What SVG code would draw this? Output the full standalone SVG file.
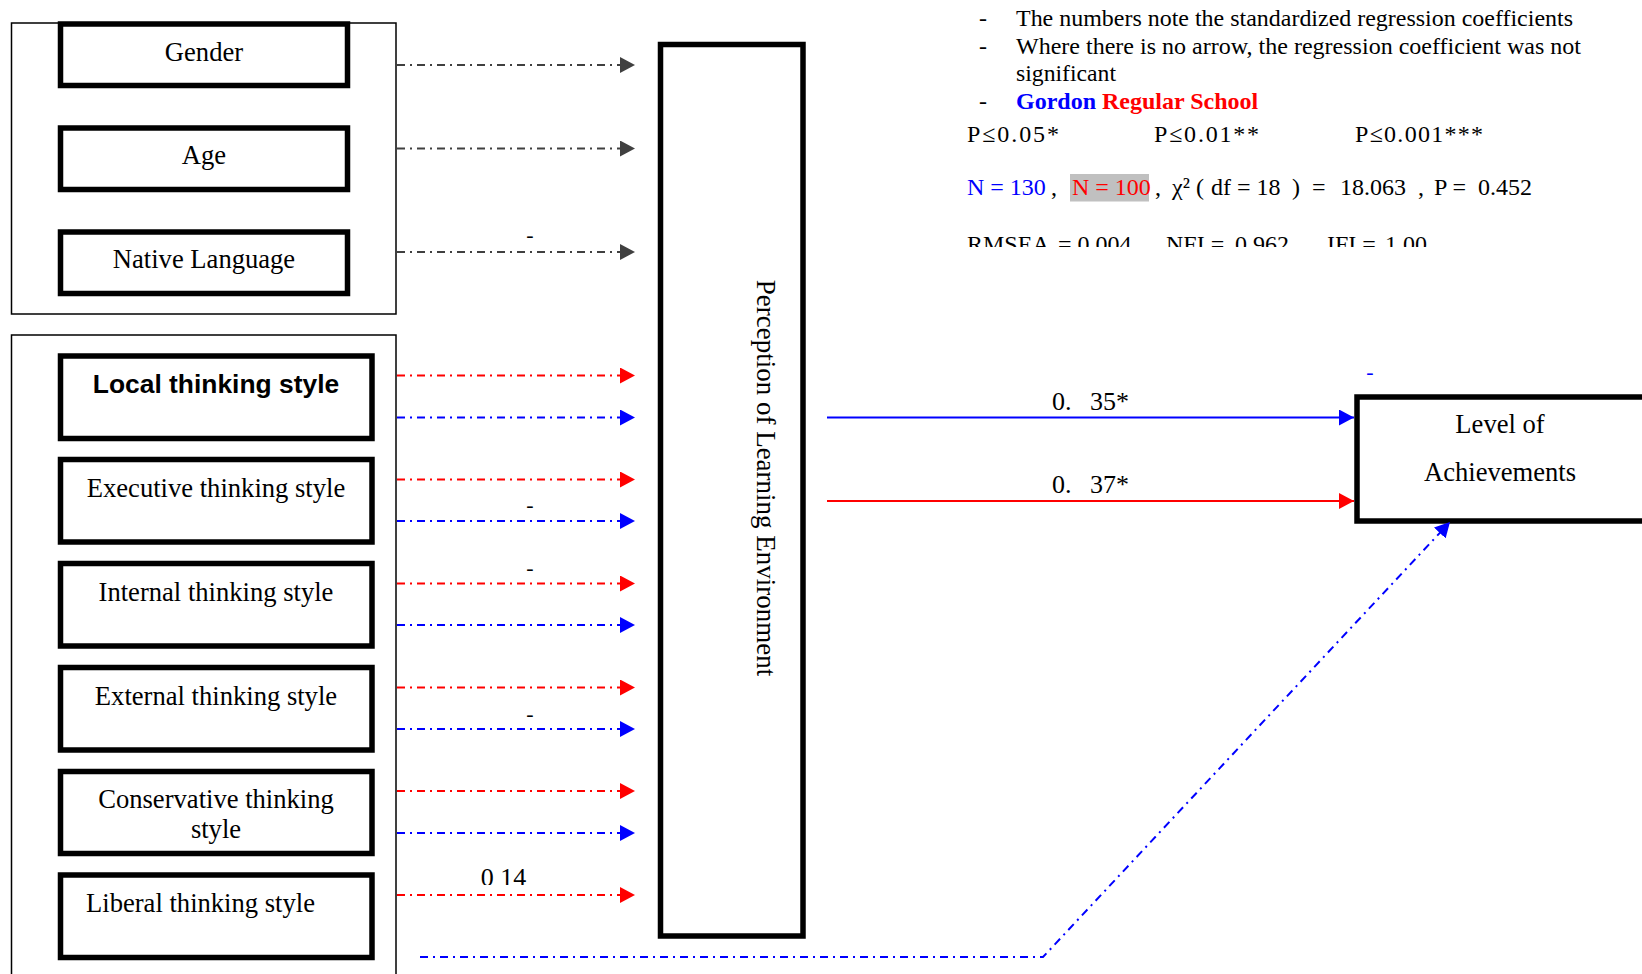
<svg xmlns="http://www.w3.org/2000/svg" width="1642" height="974" viewBox="0 0 1642 974">
<style>
  .serif { font-family: "Liberation Serif", "Times New Roman", serif; fill: #000; }
  .lbl { font-family: "Liberation Serif", "Times New Roman", serif; font-size: 26.6px; fill: #000; text-anchor: middle; }
  .note { font-family: "Liberation Serif", "Times New Roman", serif; font-size: 24px; fill: #000; }
  .coef { font-size: 26px; }
  .dash { font-size: 22px; text-anchor: middle; }
  .thick { fill: #fff; stroke: #000; stroke-width: 5.5; }
  .frame { fill: none; stroke: #000; stroke-width: 1.5; }
  .dd { fill: none; stroke-width: 2; stroke-dasharray: 8 5 2 5; }
  .red { stroke: #ff0000; }
  .blue { stroke: #0000ff; }
  .grey { stroke: #404040; }
  .solid { fill: none; stroke-width: 2; }
</style>
<defs>
  <marker id="ah-red" markerUnits="userSpaceOnUse" markerWidth="16" markerHeight="16" refX="15" refY="8" orient="auto">
    <path d="M0,0 L15,8 L0,16 z" fill="#ff0000"/>
  </marker>
  <marker id="ah-blue" markerUnits="userSpaceOnUse" markerWidth="16" markerHeight="16" refX="15" refY="8" orient="auto">
    <path d="M0,0 L15,8 L0,16 z" fill="#0000ff"/>
  </marker>
  <marker id="ah-grey" markerUnits="userSpaceOnUse" markerWidth="16" markerHeight="16" refX="15" refY="8" orient="auto">
    <path d="M0,0 L15,8 L0,16 z" fill="#404040"/>
  </marker>
  <clipPath id="clipStats"><rect x="900" y="200" width="700" height="47"/></clipPath>
  <clipPath id="clip014"><rect x="440" y="850" width="120" height="35"/></clipPath>
</defs>
<rect width="1642" height="974" fill="#fff"/>

<!-- group frames -->
<rect class="frame" x="11.5" y="23" width="384.5" height="291"/>
<rect class="frame" x="11.5" y="335" width="384.5" height="660"/>

<g id="gender">
  <rect class="thick" x="60.5" y="24" width="287" height="61.5"/>
  <text class="lbl" x="204" y="61">Gender</text>
</g>
<g id="age">
  <rect class="thick" x="60.5" y="128" width="287" height="61.5"/>
  <text class="lbl" x="204" y="164">Age</text>
</g>
<g id="native-language">
  <rect class="thick" x="60.5" y="232" width="287" height="61.5"/>
  <text class="lbl" x="204" y="268">Native Language</text>
</g>

<g id="local">
  <rect class="thick" x="60.5" y="356" width="311.5" height="82.5"/>
  <text x="216" y="393" text-anchor="middle" font-family="'Liberation Sans', Arial, sans-serif" font-weight="bold" font-size="26.4">Local thinking style</text>
</g>
<g id="executive">
  <rect class="thick" x="60.5" y="459.5" width="311.5" height="82.5"/>
  <text class="lbl" x="216" y="497">Executive thinking style</text>
</g>
<g id="internal">
  <rect class="thick" x="60.5" y="563.5" width="311.5" height="82.5"/>
  <text class="lbl" x="216" y="601">Internal thinking style</text>
</g>
<g id="external">
  <rect class="thick" x="60.5" y="667.5" width="311.5" height="82.5"/>
  <text class="lbl" x="216" y="705">External thinking style</text>
</g>
<g id="conservative">
  <rect class="thick" x="60.5" y="771.5" width="311.5" height="82"/>
  <text class="lbl" x="216" y="808">Conservative thinking</text>
  <text class="lbl" x="216" y="838">style</text>
</g>
<g id="liberal">
  <rect class="thick" x="60.5" y="875" width="311.5" height="82.5"/>
  <text class="lbl" x="200.5" y="912">Liberal thinking style</text>
</g>

<g id="perception">
  <rect class="thick" x="660.5" y="44.5" width="142.5" height="891.5" stroke-width="6"/>
  <text class="lbl" transform="translate(757,478) rotate(90)" x="0" y="0" style="font-size:27px">Perception of Learning Environment</text>
</g>

<g id="achievements">
  <rect class="thick" x="1357" y="397" width="400" height="124" stroke-width="6"/>
  <text class="lbl" x="1500" y="433">Level of</text>
  <text class="lbl" x="1500" y="481">Achievements</text>
</g>

<g id="connectors">
  <line class="dd grey" x1="397" y1="65" x2="635" y2="65" marker-end="url(#ah-grey)"/>
  <line class="dd grey" x1="397" y1="148.5" x2="635" y2="148.5" marker-end="url(#ah-grey)"/>
  <line class="dd grey" x1="397" y1="252" x2="635" y2="252" marker-end="url(#ah-grey)"/>

  <line class="dd red" x1="397" y1="375.5" x2="635" y2="375.5" marker-end="url(#ah-red)"/>
  <line class="dd blue" x1="397" y1="417.5" x2="635" y2="417.5" marker-end="url(#ah-blue)"/>
  <line class="dd red" x1="397" y1="479.5" x2="635" y2="479.5" marker-end="url(#ah-red)"/>
  <line class="dd blue" x1="397" y1="521" x2="635" y2="521" marker-end="url(#ah-blue)"/>
  <line class="dd red" x1="397" y1="583.5" x2="635" y2="583.5" marker-end="url(#ah-red)"/>
  <line class="dd blue" x1="397" y1="625" x2="635" y2="625" marker-end="url(#ah-blue)"/>
  <line class="dd red" x1="397" y1="687.5" x2="635" y2="687.5" marker-end="url(#ah-red)"/>
  <line class="dd blue" x1="397" y1="729" x2="635" y2="729" marker-end="url(#ah-blue)"/>
  <line class="dd red" x1="397" y1="791" x2="635" y2="791" marker-end="url(#ah-red)"/>
  <line class="dd blue" x1="397" y1="833" x2="635" y2="833" marker-end="url(#ah-blue)"/>
  <line class="dd red" x1="397" y1="895" x2="635" y2="895" marker-end="url(#ah-red)"/>

  <line class="solid blue" x1="827" y1="417.5" x2="1354" y2="417.5" marker-end="url(#ah-blue)"/>
  <line class="solid red" x1="827" y1="501" x2="1354" y2="501" marker-end="url(#ah-red)"/>

  <polyline class="dd blue" points="420,957 1043,957 1450,522" marker-end="url(#ah-blue)"/>

  <text class="note dash" x="530" y="242">-</text>
  <text class="note dash" x="530" y="512">-</text>
  <text class="note dash" x="530" y="575">-</text>
  <text class="note dash" x="530" y="721">-</text>
  <text class="note coef" x="503.5" y="886" text-anchor="middle" clip-path="url(#clip014)">0 14</text>
  <text class="note coef" y="410"><tspan x="1052">0.</tspan><tspan x="1090">35*</tspan></text>
  <text class="note coef" y="493"><tspan x="1052">0.</tspan><tspan x="1090">37*</tspan></text>
  <text class="note dash" x="1370" y="379" style="fill:#0000ff">-</text>
</g>

<g id="legend">
  <text class="note" x="983" y="26" text-anchor="middle">-</text>
  <text class="note" x="1016" y="26" textLength="557" lengthAdjust="spacingAndGlyphs">The numbers note the standardized regression coefficients</text>
  <text class="note" x="983" y="54" text-anchor="middle">-</text>
  <text class="note" x="1016" y="54" textLength="565" lengthAdjust="spacingAndGlyphs">Where there is no arrow, the regression coefficient was not</text>
  <text class="note" x="1016" y="81" textLength="100" lengthAdjust="spacingAndGlyphs">significant</text>
  <text class="note" x="983" y="109" text-anchor="middle">-</text>
  <text class="note" x="1016" y="109" font-weight="bold"><tspan style="fill:#0000ff">Gordon</tspan> <tspan style="fill:#ff0000">Regular School</tspan></text>

  <text class="note" x="967" y="141.5" textLength="92" lengthAdjust="spacing">P≤0.05*</text>
  <text class="note" x="1154" y="141.5" textLength="105" lengthAdjust="spacing">P≤0.01**</text>
  <text class="note" x="1355" y="141.5" textLength="128" lengthAdjust="spacing">P≤0.001***</text>

  <rect x="1070" y="174" width="79" height="27.5" fill="#c0c0c0"/>
  <text class="note" y="195"><tspan x="967" style="fill:#0000ff">N = 130</tspan><tspan x="1051">,</tspan><tspan x="1072" style="fill:#ff0000">N = 100</tspan><tspan x="1155">,</tspan><tspan x="1172">χ²</tspan><tspan x="1196">(</tspan><tspan x="1211">df = 18</tspan><tspan x="1292">)</tspan><tspan x="1312">=</tspan><tspan x="1340">18.063</tspan><tspan x="1418">,</tspan><tspan x="1434">P =</tspan><tspan x="1478">0.452</tspan></text>

  <text class="note" y="251.5" clip-path="url(#clipStats)"><tspan x="967">RMSEA</tspan><tspan x="1058">= 0.004</tspan><tspan x="1166">NFI =</tspan><tspan x="1235">0.962</tspan><tspan x="1327">IFI =</tspan><tspan x="1385">1.00</tspan></text>
</g>
</svg>
